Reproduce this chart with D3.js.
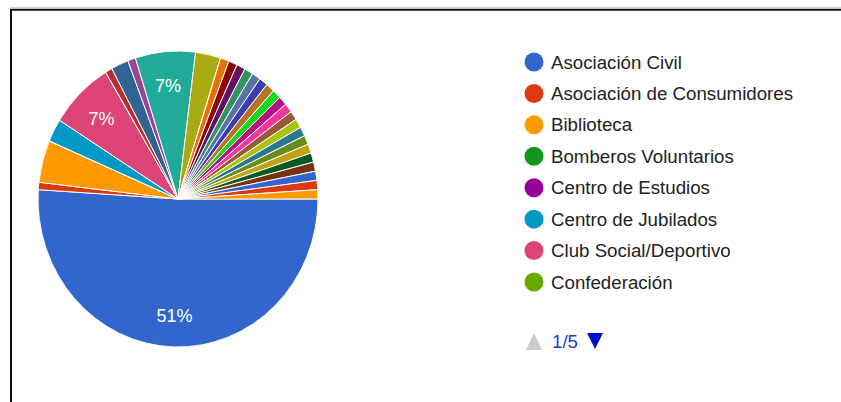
<!DOCTYPE html>
<html>
<head>
<meta charset="utf-8">
<script src="https://cdn.jsdelivr.net/npm/d3@7"></script>
<style>
html,body{margin:0;padding:0;background:#fff;overflow:hidden;}
svg{display:block;font-family:"Liberation Sans",Arial,sans-serif;}
</style>
</head>
<body>
<svg id="chart" width="841" height="402"></svg>
<script>
const categories = [
  "Asociación Civil","Asociación de Consumidores","Biblioteca","Bomberos Voluntarios",
  "Centro de Estudios","Centro de Jubilados","Club Social/Deportivo","Confederación",
  "Consejo Vecinal","Cooperadora Escolar","Cooperativa","Federación","Fundación",
  "Grupo Comunitario","Grupo Scout","Iglesia","Instituto","Junta Vecinal",
  "Movimiento Social","Mutual","Obra Social","Organización Barrial","Organización Social",
  "Partido Político","Red Comunitaria","Sindicato","Sociedad de Fomento","Unión Vecinal",
  "Universidad","Vecinos Autoconvocados","Voluntariado","Otra","Otro","Sin Especificar"
];
const values = [
  50.8, 0.8, 4.6, 0, 0, 2.5, 7.4, 0,
  0.8, 2.0, 0.9, 6.9, 2.9, 0,
  1.0, 1.0, 1.0, 1.0, 1.0, 1.0, 1.0, 1.0, 1.0, 1.0,
  1.0, 1.0, 1.0, 1.0, 1.0, 1.0, 1.0, 1.0, 1.0, 1.0
];
const palette = ["#3366cc","#dc3912","#ff9900","#109618","#990099","#0099c6","#dd4477",
  "#66aa00","#b82e2e","#316395","#994499","#22aa99","#aaaa11","#6633cc","#e67300",
  "#8b0707","#651067","#329262","#5574a6","#3b3eac","#b77322","#16d620","#b91383",
  "#f4359e","#9c5935","#a9c413","#2a778d","#668d1c","#bea413","#0c5922","#743411"];
const pageInfo = "1/5";
const perPage = 8;

const data = categories.map((c,i)=>({name:c, value:values[i], color:palette[i % palette.length]}));
const svg = d3.select("#chart");

// frame
svg.append("line").attr("x1",10).attr("x2",841).attr("y1",7.5).attr("y2",7.5)
  .attr("stroke","#d0d0d0").attr("stroke-width",1);
svg.append("path").attr("d","M11,402V9.75H841").attr("fill","none")
  .attr("stroke","#111").attr("stroke-width",2);

const cx = 178, cy = 199, R = 148, sx = 140/148;
const total = d3.sum(values);
const pie = d3.pie().sort(null).value(d=>d.value)
  .startAngle(Math.PI/2).endAngle(Math.PI/2 + 2*Math.PI);
const arcs = pie(data);
const arc = d3.arc().innerRadius(0).outerRadius(R);
const g = svg.append("g").attr("transform",`translate(${cx},${cy}) scale(${sx},1)`);
g.selectAll("path").data(arcs).enter().append("path")
  .attr("d",arc).attr("fill",d=>d.data.color)
  .attr("stroke","#fff").attr("stroke-width",1);

const labelArc = d3.arc().innerRadius(R*0.78).outerRadius(R*0.78);
svg.selectAll("text.pct").data(arcs.filter(d=>d.data.value/total >= 0.06)).enter()
  .append("text").attr("class","pct")
  .attr("x",d=>cx + sx*labelArc.centroid(d)[0])
  .attr("y",d=>cy + labelArc.centroid(d)[1] + 2)
  .attr("text-anchor","middle").attr("dominant-baseline","central")
  .attr("fill","#fff").attr("font-size",18)
  .text(d=>Math.round(d.data.value/total*100)+"%");

// legend
const legendY = d3.scalePoint().domain(d3.range(perPage)).range([62,282]);
const lg = svg.append("g");
const items = data.slice(0, perPage);
items.forEach((d,i)=>{
  lg.append("circle").attr("cx",534).attr("cy",legendY(i)).attr("r",9.5).attr("fill",d.color);
  lg.append("text").attr("x",551).attr("y",legendY(i)).attr("dominant-baseline","central")
    .attr("font-size",18.7).attr("fill","#222").text(d.name);
});
// pagination
lg.append("path").attr("d","M526,350L534,333L542,350Z").attr("fill","#cccccc");
lg.append("text").attr("x",552).attr("y",341).attr("dominant-baseline","central")
  .attr("font-size",18.7).attr("fill","#1a3fd0").text(pageInfo);
lg.append("path").attr("d","M587,333L603,333L595,349Z").attr("fill","#0011cc");
</script>
</body>
</html>
